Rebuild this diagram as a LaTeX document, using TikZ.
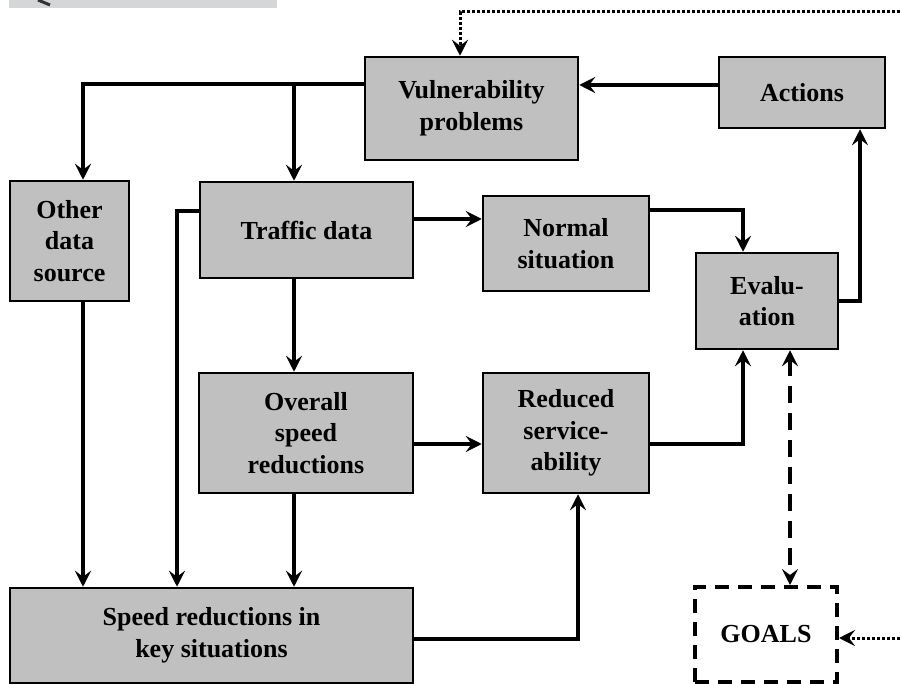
\documentclass[tikz,border=0pt]{standalone}
\usepackage{fontspec}
\setmainfont{Liberation Serif}
\usetikzlibrary{arrows.meta}
\definecolor{boxgray}{RGB}{192,192,192}
\definecolor{wmgray}{RGB}{212,214,216}
\begin{document}
\begin{tikzpicture}[x=1pt,y=-1pt,
  txt/.style={font=\bfseries\fontsize{26}{31.5}\selectfont, align=center},
  box/.style={txt, draw=black, line width=2.5pt, fill=boxgray, inner sep=0pt},
  goalbox/.style={txt, draw=black, line width=4pt, dash pattern=on 14pt off 9pt, inner sep=0pt},
  conn/.style={line width=3.5pt, -{Stealth[length=16pt,width=16pt,inset=6pt]}},
  dashconn/.style={line width=3.5pt, dash pattern=on 17pt off 10pt, {Stealth[length=16pt,width=16pt,inset=6pt]}-{Stealth[length=16pt,width=16pt,inset=6pt]}},
  dotconn/.style={line width=3pt, dash pattern=on 3pt off 2pt, -{Stealth[length=16pt,width=16pt,inset=6pt]}}
]
\useasboundingbox (0,0) rectangle (900,684);
\fill[wmgray] (9,0) rectangle (277,8);
\draw[line width=3pt, black!80] (38,0) -- (50,5);

% nodes
\node[box, minimum width=213pt, minimum height=103pt] (vuln) at (471.5,108.5) {Vulnerability\\problems};
\node[box, minimum width=166pt, minimum height=71pt] (act) at (802,92.5) {Actions};
\node[box, minimum width=119pt, minimum height=120pt] (other) at (69.5,241) {Other\\data\\source};
\node[box, minimum width=213pt, minimum height=96pt] (traffic) at (306.5,230) {Traffic data};
\node[box, minimum width=166pt, minimum height=95pt] (normal) at (566,243.5) {Normal\\situation};
\node[box, minimum width=142pt, minimum height=96pt] (eval) at (767,301) {Evalu-\\ation};
\node[box, minimum width=214pt, minimum height=120pt] (overall) at (306,433) {Overall\\speed\\reductions};
\node[box, minimum width=166pt, minimum height=120pt] (reduced) at (566,433) {Reduced\\service-\\ability};
\node[box, minimum width=403pt, minimum height=95pt] (speed) at (211.5,635.5) {Speed reductions in\\key situations};
\node[goalbox, minimum width=142pt, minimum height=95pt] (goals) at (766,634.5) {GOALS};

% helper coordinates
\coordinate (dt) at (900,12);
\coordinate (dg) at (900,638);
\coordinate (ap) at ([yshift=7.5pt]act.west);
\coordinate (vw) at ([yshift=24.5pt]vuln.west);
\coordinate (tn) at ([xshift=-12.5pt]traffic.north);
\coordinate (tr) at ([yshift=11pt]traffic.east);
\coordinate (os) at ([xshift=13.5pt]other.south);
\coordinate (orr) at ([yshift=-11pt]overall.east);
\coordinate (eg) at ([xshift=23pt]eval.south);

% connectors
\draw[dotconn] (dt) -| ([xshift=-11.5pt]vuln.north);
\draw[conn] (ap) -- (ap -| vuln.east);
\draw[conn] (vw) -| ([xshift=13.5pt]other.north);
\draw[conn] (vw -| tn) -- (tn);
\draw[conn] (tr) -- (tr -| normal.west);
\draw[conn] ([yshift=33.5pt]normal.east) -| ([xshift=-24pt]eval.north);
\draw[conn] (eval.east) -| ([xshift=58pt]act.south);
\draw[conn] (tn |- traffic.south) -- (tn |- overall.north);
\draw[conn] ([yshift=19pt]traffic.west) -| ([xshift=-34.5pt]speed.north);
\draw[conn] (os) -- (os |- speed.north);
\draw[conn] (tn |- overall.south) -- (tn |- speed.north);
\draw[conn] (orr) -- (orr -| reduced.west);
\draw[conn] (orr -| reduced.east) -| ([xshift=-24pt]eval.south);
\draw[conn] ([yshift=-3.5pt]speed.east) -| ([xshift=12pt]reduced.south);
\draw[dashconn] (eg) -- (eg |- goals.north);
\draw[dotconn] (dg) -- (dg -| goals.east);
\end{tikzpicture}
\end{document}
